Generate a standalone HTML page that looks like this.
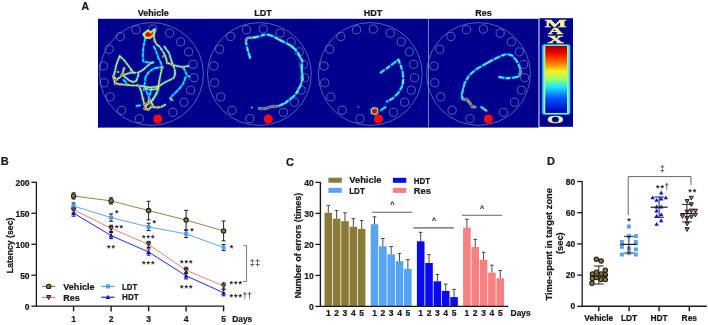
<!DOCTYPE html>
<html><head><meta charset="utf-8"><style>
html,body{margin:0;padding:0;background:#fff;width:708px;height:325px;overflow:hidden}
svg{display:block;filter:blur(0.3px)}
text{font-family:"Liberation Sans",sans-serif}
</style></head><body>
<svg width="708" height="325" viewBox="0 0 708 325">
<rect width="708" height="325" fill="#fff"/>
<rect x="98" y="18.8" width="440.8" height="108.8" fill="#00008c"/>
<rect x="539.3" y="18.2" width="33.7" height="108.6" fill="#00008c"/>
<line x1="428.5" y1="18.8" x2="428.5" y2="127.6" stroke="#8c9ccc" stroke-width="0.8"/>
<line x1="538.9" y1="18.2" x2="538.9" y2="127.2" stroke="#b8bcd8" stroke-width="0.9"/>
<ellipse cx="151.50" cy="74.0" rx="51.9" ry="51.4" fill="none" stroke="#6c8cc4" stroke-width="0.7"/>
<circle cx="152.77" cy="29.07" r="4.1" fill="none" stroke="#6c8cc4" stroke-width="0.7"/>
<circle cx="169.55" cy="33.09" r="4.1" fill="none" stroke="#6c8cc4" stroke-width="0.7"/>
<circle cx="180.62" cy="41.82" r="4.1" fill="none" stroke="#6c8cc4" stroke-width="0.7"/>
<circle cx="188.68" cy="51.89" r="4.1" fill="none" stroke="#6c8cc4" stroke-width="0.7"/>
<circle cx="193.04" cy="64.30" r="4.1" fill="none" stroke="#6c8cc4" stroke-width="0.7"/>
<circle cx="194.04" cy="77.72" r="4.1" fill="none" stroke="#6c8cc4" stroke-width="0.7"/>
<circle cx="190.69" cy="90.14" r="4.1" fill="none" stroke="#6c8cc4" stroke-width="0.7"/>
<circle cx="183.98" cy="102.22" r="4.1" fill="none" stroke="#6c8cc4" stroke-width="0.7"/>
<circle cx="172.90" cy="112.29" r="4.1" fill="none" stroke="#6c8cc4" stroke-width="0.7"/>
<circle cx="139.35" cy="118.66" r="4.1" fill="none" stroke="#6c8cc4" stroke-width="0.7"/>
<circle cx="121.56" cy="110.28" r="4.1" fill="none" stroke="#6c8cc4" stroke-width="0.7"/>
<circle cx="110.15" cy="96.85" r="4.1" fill="none" stroke="#6c8cc4" stroke-width="0.7"/>
<circle cx="104.11" cy="82.76" r="4.1" fill="none" stroke="#6c8cc4" stroke-width="0.7"/>
<circle cx="103.44" cy="65.98" r="4.1" fill="none" stroke="#6c8cc4" stroke-width="0.7"/>
<circle cx="109.14" cy="49.20" r="4.1" fill="none" stroke="#6c8cc4" stroke-width="0.7"/>
<circle cx="120.22" cy="36.45" r="4.1" fill="none" stroke="#6c8cc4" stroke-width="0.7"/>
<circle cx="135.99" cy="29.74" r="4.1" fill="none" stroke="#6c8cc4" stroke-width="0.7"/>
<circle cx="157.80" cy="119.00" r="4.5" fill="#ff0a0a"/>
<ellipse cx="259.40" cy="74.0" rx="51.9" ry="51.4" fill="none" stroke="#6c8cc4" stroke-width="0.7"/>
<circle cx="263.27" cy="29.07" r="4.1" fill="none" stroke="#6c8cc4" stroke-width="0.7"/>
<circle cx="280.05" cy="33.09" r="4.1" fill="none" stroke="#6c8cc4" stroke-width="0.7"/>
<circle cx="291.12" cy="41.82" r="4.1" fill="none" stroke="#6c8cc4" stroke-width="0.7"/>
<circle cx="299.18" cy="51.89" r="4.1" fill="none" stroke="#6c8cc4" stroke-width="0.7"/>
<circle cx="303.54" cy="64.30" r="4.1" fill="none" stroke="#6c8cc4" stroke-width="0.7"/>
<circle cx="304.54" cy="77.72" r="4.1" fill="none" stroke="#6c8cc4" stroke-width="0.7"/>
<circle cx="301.19" cy="90.14" r="4.1" fill="none" stroke="#6c8cc4" stroke-width="0.7"/>
<circle cx="294.48" cy="102.22" r="4.1" fill="none" stroke="#6c8cc4" stroke-width="0.7"/>
<circle cx="283.40" cy="112.29" r="4.1" fill="none" stroke="#6c8cc4" stroke-width="0.7"/>
<circle cx="249.85" cy="118.66" r="4.1" fill="none" stroke="#6c8cc4" stroke-width="0.7"/>
<circle cx="232.06" cy="110.28" r="4.1" fill="none" stroke="#6c8cc4" stroke-width="0.7"/>
<circle cx="220.65" cy="96.85" r="4.1" fill="none" stroke="#6c8cc4" stroke-width="0.7"/>
<circle cx="214.61" cy="82.76" r="4.1" fill="none" stroke="#6c8cc4" stroke-width="0.7"/>
<circle cx="213.94" cy="65.98" r="4.1" fill="none" stroke="#6c8cc4" stroke-width="0.7"/>
<circle cx="219.64" cy="49.20" r="4.1" fill="none" stroke="#6c8cc4" stroke-width="0.7"/>
<circle cx="230.72" cy="36.45" r="4.1" fill="none" stroke="#6c8cc4" stroke-width="0.7"/>
<circle cx="246.49" cy="29.74" r="4.1" fill="none" stroke="#6c8cc4" stroke-width="0.7"/>
<circle cx="268.30" cy="119.00" r="4.5" fill="#ff0a0a"/>
<ellipse cx="370.30" cy="74.0" rx="51.9" ry="51.4" fill="none" stroke="#6c8cc4" stroke-width="0.7"/>
<circle cx="373.37" cy="29.07" r="4.1" fill="none" stroke="#6c8cc4" stroke-width="0.7"/>
<circle cx="390.15" cy="33.09" r="4.1" fill="none" stroke="#6c8cc4" stroke-width="0.7"/>
<circle cx="401.22" cy="41.82" r="4.1" fill="none" stroke="#6c8cc4" stroke-width="0.7"/>
<circle cx="409.28" cy="51.89" r="4.1" fill="none" stroke="#6c8cc4" stroke-width="0.7"/>
<circle cx="413.64" cy="64.30" r="4.1" fill="none" stroke="#6c8cc4" stroke-width="0.7"/>
<circle cx="414.64" cy="77.72" r="4.1" fill="none" stroke="#6c8cc4" stroke-width="0.7"/>
<circle cx="411.29" cy="90.14" r="4.1" fill="none" stroke="#6c8cc4" stroke-width="0.7"/>
<circle cx="404.58" cy="102.22" r="4.1" fill="none" stroke="#6c8cc4" stroke-width="0.7"/>
<circle cx="393.50" cy="112.29" r="4.1" fill="none" stroke="#6c8cc4" stroke-width="0.7"/>
<circle cx="359.95" cy="118.66" r="4.1" fill="none" stroke="#6c8cc4" stroke-width="0.7"/>
<circle cx="342.16" cy="110.28" r="4.1" fill="none" stroke="#6c8cc4" stroke-width="0.7"/>
<circle cx="330.75" cy="96.85" r="4.1" fill="none" stroke="#6c8cc4" stroke-width="0.7"/>
<circle cx="324.71" cy="82.76" r="4.1" fill="none" stroke="#6c8cc4" stroke-width="0.7"/>
<circle cx="324.04" cy="65.98" r="4.1" fill="none" stroke="#6c8cc4" stroke-width="0.7"/>
<circle cx="329.74" cy="49.20" r="4.1" fill="none" stroke="#6c8cc4" stroke-width="0.7"/>
<circle cx="340.82" cy="36.45" r="4.1" fill="none" stroke="#6c8cc4" stroke-width="0.7"/>
<circle cx="356.59" cy="29.74" r="4.1" fill="none" stroke="#6c8cc4" stroke-width="0.7"/>
<circle cx="378.40" cy="119.00" r="4.5" fill="#ff0a0a"/>
<ellipse cx="478.50" cy="74.0" rx="51.9" ry="51.4" fill="none" stroke="#6c8cc4" stroke-width="0.7"/>
<circle cx="483.37" cy="29.07" r="4.1" fill="none" stroke="#6c8cc4" stroke-width="0.7"/>
<circle cx="500.15" cy="33.09" r="4.1" fill="none" stroke="#6c8cc4" stroke-width="0.7"/>
<circle cx="511.22" cy="41.82" r="4.1" fill="none" stroke="#6c8cc4" stroke-width="0.7"/>
<circle cx="519.28" cy="51.89" r="4.1" fill="none" stroke="#6c8cc4" stroke-width="0.7"/>
<circle cx="523.64" cy="64.30" r="4.1" fill="none" stroke="#6c8cc4" stroke-width="0.7"/>
<circle cx="524.64" cy="77.72" r="4.1" fill="none" stroke="#6c8cc4" stroke-width="0.7"/>
<circle cx="521.29" cy="90.14" r="4.1" fill="none" stroke="#6c8cc4" stroke-width="0.7"/>
<circle cx="514.58" cy="102.22" r="4.1" fill="none" stroke="#6c8cc4" stroke-width="0.7"/>
<circle cx="503.50" cy="112.29" r="4.1" fill="none" stroke="#6c8cc4" stroke-width="0.7"/>
<circle cx="469.95" cy="118.66" r="4.1" fill="none" stroke="#6c8cc4" stroke-width="0.7"/>
<circle cx="452.16" cy="110.28" r="4.1" fill="none" stroke="#6c8cc4" stroke-width="0.7"/>
<circle cx="440.75" cy="96.85" r="4.1" fill="none" stroke="#6c8cc4" stroke-width="0.7"/>
<circle cx="434.71" cy="82.76" r="4.1" fill="none" stroke="#6c8cc4" stroke-width="0.7"/>
<circle cx="434.04" cy="65.98" r="4.1" fill="none" stroke="#6c8cc4" stroke-width="0.7"/>
<circle cx="439.74" cy="49.20" r="4.1" fill="none" stroke="#6c8cc4" stroke-width="0.7"/>
<circle cx="450.82" cy="36.45" r="4.1" fill="none" stroke="#6c8cc4" stroke-width="0.7"/>
<circle cx="466.59" cy="29.74" r="4.1" fill="none" stroke="#6c8cc4" stroke-width="0.7"/>
<circle cx="488.40" cy="119.00" r="4.5" fill="#ff0a0a"/>
<path d="M250.0,57.7 L247.7,50.0 L245.8,41.5 L246.9,38.2 L248.5,37.7 L253.8,37.6 L258.5,36.6 L264.6,34.7 L268.5,34.8 L273.1,36.3 L278.5,39.3 L284.6,42.3 L290.5,45.4 L295.2,49.3 L298.5,53.8 L300.2,57.5 L302.3,60.5 L301.5,69.2 L302.8,77.5 L300.5,85.8 L298.0,90.5 L295.0,95.1 L289.4,99.7 L284.6,103.4 L277.7,106.4 L272.2,106.5 L265.7,108.5 L260.2,108.6 L257.4,108.2" fill="none" stroke="#0a6cff" stroke-width="3.8" stroke-opacity="0.45" stroke-linecap="round" stroke-linejoin="round" stroke-dasharray="4.5 3 3 3.2 5.5 2.8 2.5 3"/>
<path d="M250.0,57.7 L247.7,50.0 L245.8,41.5 L246.9,38.2 L248.5,37.7 L253.8,37.6 L258.5,36.6 L264.6,34.7 L268.5,34.8 L273.1,36.3 L278.5,39.3 L284.6,42.3 L290.5,45.4 L295.2,49.3 L298.5,53.8 L300.2,57.5 L302.3,60.5 L301.5,69.2 L302.8,77.5 L300.5,85.8 L298.0,90.5 L295.0,95.1 L289.4,99.7 L284.6,103.4 L277.7,106.4 L272.2,106.5 L265.7,108.5 L260.2,108.6 L257.4,108.2" fill="none" stroke="#2ae4ff" stroke-width="2.0" stroke-linecap="round" stroke-linejoin="round" stroke-dasharray="4.5 3 3 3.2 5.5 2.8 2.5 3"/>
<path d="M250.0,57.7 L247.7,50.0 L245.8,41.5 L246.9,38.2 L248.5,37.7 L253.8,37.6 L258.5,36.6 L264.6,34.7 L268.5,34.8 L273.1,36.3 L278.5,39.3 L284.6,42.3 L290.5,45.4 L295.2,49.3 L298.5,53.8 L300.2,57.5 L302.3,60.5 L301.5,69.2 L302.8,77.5 L300.5,85.8 L298.0,90.5 L295.0,95.1 L289.4,99.7 L284.6,103.4 L277.7,106.4 L272.2,106.5 L265.7,108.5 L260.2,108.6 L257.4,108.2" fill="none" stroke="#d8f050" stroke-width="0.9" stroke-linecap="round" stroke-dasharray="2 4 3 6 1.5 5"/>
<circle cx="251.8" cy="107.6" r="1.0" fill="#2ae4ff"/>
<path d="M246.0,42.0 L246.9,38.2 L250.0,37.8" fill="none" stroke="#2ae4ff" stroke-width="2.0" stroke-linecap="round" stroke-linejoin="round"/>
<path d="M246.0,42.0 L246.9,38.2 L250.0,37.8" fill="none" stroke="#f05010" stroke-width="1.00" stroke-linecap="round" stroke-linejoin="round"/>
<path d="M259.0,108.5 L265.7,108.4 L272.2,106.4 L279.0,106.0" fill="none" stroke="#2ae4ff" stroke-width="2.2" stroke-linecap="round" stroke-linejoin="round"/>
<path d="M259.0,108.5 L265.7,108.4 L272.2,106.4 L279.0,106.0" fill="none" stroke="#f03010" stroke-width="1.10" stroke-linecap="round" stroke-linejoin="round"/>
<circle cx="262" cy="108.5" r="0.9" fill="#e01000"/>
<circle cx="268.5" cy="107.6" r="0.9" fill="#e01000"/>
<circle cx="275" cy="106.4" r="0.9" fill="#e01000"/>
<path d="M253.0,37.6 L256.0,37.2" fill="none" stroke="#2ae4ff" stroke-width="2.0" stroke-linecap="round" stroke-linejoin="round"/>
<path d="M253.0,37.6 L256.0,37.2" fill="none" stroke="#e8e030" stroke-width="1.00" stroke-linecap="round" stroke-linejoin="round"/>
<path d="M278.5,39.3 L281.5,40.8" fill="none" stroke="#2ae4ff" stroke-width="2.0" stroke-linecap="round" stroke-linejoin="round"/>
<path d="M278.5,39.3 L281.5,40.8" fill="none" stroke="#e8e030" stroke-width="1.00" stroke-linecap="round" stroke-linejoin="round"/>
<path d="M290.5,45.4 L293.0,47.5" fill="none" stroke="#2ae4ff" stroke-width="2.0" stroke-linecap="round" stroke-linejoin="round"/>
<path d="M290.5,45.4 L293.0,47.5" fill="none" stroke="#e8e030" stroke-width="1.00" stroke-linecap="round" stroke-linejoin="round"/>
<path d="M298.5,53.8 L299.6,56.0" fill="none" stroke="#2ae4ff" stroke-width="2.0" stroke-linecap="round" stroke-linejoin="round"/>
<path d="M298.5,53.8 L299.6,56.0" fill="none" stroke="#e8e030" stroke-width="1.00" stroke-linecap="round" stroke-linejoin="round"/>
<path d="M301.8,66.0 L301.6,70.0" fill="none" stroke="#2ae4ff" stroke-width="2.0" stroke-linecap="round" stroke-linejoin="round"/>
<path d="M301.8,66.0 L301.6,70.0" fill="none" stroke="#e8e030" stroke-width="1.00" stroke-linecap="round" stroke-linejoin="round"/>
<path d="M302.4,76.0 L302.6,80.0" fill="none" stroke="#2ae4ff" stroke-width="2.0" stroke-linecap="round" stroke-linejoin="round"/>
<path d="M302.4,76.0 L302.6,80.0" fill="none" stroke="#e8e030" stroke-width="1.00" stroke-linecap="round" stroke-linejoin="round"/>
<path d="M298.0,90.5 L296.5,93.0" fill="none" stroke="#2ae4ff" stroke-width="2.0" stroke-linecap="round" stroke-linejoin="round"/>
<path d="M298.0,90.5 L296.5,93.0" fill="none" stroke="#e8e030" stroke-width="1.00" stroke-linecap="round" stroke-linejoin="round"/>
<path d="M287.0,101.5 L285.5,102.8" fill="none" stroke="#2ae4ff" stroke-width="2.0" stroke-linecap="round" stroke-linejoin="round"/>
<path d="M287.0,101.5 L285.5,102.8" fill="none" stroke="#e8e030" stroke-width="1.00" stroke-linecap="round" stroke-linejoin="round"/>
<path d="M380.8,72.5 L387.3,67.9 L393.8,63.3 L398.4,59.6 L400.2,64.2 L402.6,71.6 L403.4,79.0 L402.1,86.4 L398.4,92.8 L392.8,98.4 L386.9,101.5" fill="none" stroke="#0a6cff" stroke-width="3.7" stroke-opacity="0.45" stroke-linecap="round" stroke-linejoin="round" stroke-dasharray="4 3 3.5 2.8 5 3"/>
<path d="M380.8,72.5 L387.3,67.9 L393.8,63.3 L398.4,59.6 L400.2,64.2 L402.6,71.6 L403.4,79.0 L402.1,86.4 L398.4,92.8 L392.8,98.4 L386.9,101.5" fill="none" stroke="#2ae4ff" stroke-width="1.9" stroke-linecap="round" stroke-linejoin="round" stroke-dasharray="4 3 3.5 2.8 5 3"/>
<path d="M380.8,72.5 L387.3,67.9 L393.8,63.3 L398.4,59.6 L400.2,64.2 L402.6,71.6 L403.4,79.0 L402.1,86.4 L398.4,92.8 L392.8,98.4 L386.9,101.5" fill="none" stroke="#d8f050" stroke-width="0.8" stroke-linecap="round" stroke-dasharray="1.5 7 2 9"/>
<path d="M380.9,110.2 L385.5,107.0" fill="none" stroke="#0a6cff" stroke-width="3.4000000000000004" stroke-opacity="0.45" stroke-linecap="round" stroke-linejoin="round"/>
<path d="M380.9,110.2 L385.5,107.0" fill="none" stroke="#2ae4ff" stroke-width="1.6" stroke-linecap="round" stroke-linejoin="round"/>
<circle cx="385.0" cy="108.3" r="0.9" fill="#ff6020"/>
<path d="M371.2,109.6 L373.6,107.6 L377.4,108.4 L378.0,112.6 L375.2,114.6 L371.4,113.4 Z" fill="#2ae4ff" stroke="#2ae4ff" stroke-width="1.4" stroke-linejoin="round"/>
<path d="M371.2,109.6 L373.6,107.6 L377.4,108.4 L378.0,112.6 L375.2,114.6 L371.4,113.4 Z" fill="#f0e030"/>
<path d="M371.9,109.8 L373.8,108.3 L377,109 L377.4,112.5 L375.1,114 L372,113 Z" fill="#e81800"/>
<circle cx="374.4" cy="111" r="1.2" fill="#b00000"/>
<circle cx="358.3" cy="106.8" r="0.9" fill="#30a0ff"/>
<path d="M403.3,80.0 L402.6,84.0" fill="none" stroke="#2ae4ff" stroke-width="1.5" stroke-linecap="round" stroke-linejoin="round"/>
<path d="M403.3,80.0 L402.6,84.0" fill="none" stroke="#e8f040" stroke-width="0.75" stroke-linecap="round" stroke-linejoin="round"/>
<path d="M398.4,59.8 L399.5,62.0" fill="none" stroke="#2ae4ff" stroke-width="1.5" stroke-linecap="round" stroke-linejoin="round"/>
<path d="M398.4,59.8 L399.5,62.0" fill="none" stroke="#e8f040" stroke-width="0.75" stroke-linecap="round" stroke-linejoin="round"/>
<path d="M499.2,77.0 L506.7,78.3 L513.2,77.7 L518.5,76.6 L520.7,72.3 L519.6,66.9 L516.4,60.5 L512.1,55.5 L506.7,54.0 L500.2,56.2 L491.6,60.5 L483.0,65.4 L475.5,69.7 L469.0,75.5 L464.7,83.1 L462.5,91.7 L461.5,95.5 L463.3,99.2 L467.0,99.7 L469.8,102.9 L472.1,106.6 L476.2,107.1" fill="none" stroke="#0a6cff" stroke-width="3.7" stroke-opacity="0.45" stroke-linecap="round" stroke-linejoin="round" stroke-dasharray="4.5 2.8 3.5 3 5 2.8"/>
<path d="M499.2,77.0 L506.7,78.3 L513.2,77.7 L518.5,76.6 L520.7,72.3 L519.6,66.9 L516.4,60.5 L512.1,55.5 L506.7,54.0 L500.2,56.2 L491.6,60.5 L483.0,65.4 L475.5,69.7 L469.0,75.5 L464.7,83.1 L462.5,91.7 L461.5,95.5 L463.3,99.2 L467.0,99.7 L469.8,102.9 L472.1,106.6 L476.2,107.1" fill="none" stroke="#2ae4ff" stroke-width="1.9" stroke-linecap="round" stroke-linejoin="round" stroke-dasharray="4.5 2.8 3.5 3 5 2.8"/>
<path d="M499.2,77.0 L506.7,78.3 L513.2,77.7 L518.5,76.6 L520.7,72.3 L519.6,66.9 L516.4,60.5 L512.1,55.5 L506.7,54.0 L500.2,56.2 L491.6,60.5 L483.0,65.4 L475.5,69.7 L469.0,75.5 L464.7,83.1 L462.5,91.7 L461.5,95.5 L463.3,99.2 L467.0,99.7 L469.8,102.9 L472.1,106.6 L476.2,107.1" fill="none" stroke="#d8f050" stroke-width="0.8" stroke-linecap="round" stroke-dasharray="2 6 1.5 8"/>
<path d="M481.3,107.1 L486.4,110.8" fill="none" stroke="#0a6cff" stroke-width="3.5" stroke-opacity="0.45" stroke-linecap="round" stroke-linejoin="round"/>
<path d="M481.3,107.1 L486.4,110.8" fill="none" stroke="#2ae4ff" stroke-width="1.7" stroke-linecap="round" stroke-linejoin="round"/>
<path d="M520.3,69.0 L520.7,72.3 L519.5,76.0" fill="none" stroke="#2ae4ff" stroke-width="1.8" stroke-linecap="round" stroke-linejoin="round"/>
<path d="M520.3,69.0 L520.7,72.3 L519.5,76.0" fill="none" stroke="#f05020" stroke-width="0.90" stroke-linecap="round" stroke-linejoin="round"/>
<path d="M462.0,98.6 L463.3,99.2 L467.0,99.7 L469.8,102.9 L472.1,106.6 L474.5,107.0" fill="none" stroke="#2ae4ff" stroke-width="2.6" stroke-linecap="round" stroke-linejoin="round"/>
<path d="M462.0,98.6 L463.3,99.2 L467.0,99.7 L469.8,102.9 L472.1,106.6 L474.5,107.0" fill="none" stroke="#f05010" stroke-width="1.30" stroke-linecap="round" stroke-linejoin="round"/>
<circle cx="466.2" cy="99.6" r="0.9" fill="#e01000"/>
<circle cx="471.6" cy="105.8" r="1.0" fill="#e01000"/>
<path d="M481.8,107.4 L485.5,110.0" fill="none" stroke="#2ae4ff" stroke-width="2.2" stroke-linecap="round" stroke-linejoin="round"/>
<path d="M481.8,107.4 L485.5,110.0" fill="none" stroke="#f08020" stroke-width="1.10" stroke-linecap="round" stroke-linejoin="round"/>
<path d="M491.6,60.5 L487.0,63.0" fill="none" stroke="#2ae4ff" stroke-width="1.5" stroke-linecap="round" stroke-linejoin="round"/>
<path d="M491.6,60.5 L487.0,63.0" fill="none" stroke="#e8f040" stroke-width="0.75" stroke-linecap="round" stroke-linejoin="round"/>
<path d="M145.5,38.0 L144.7,40.5 L143.5,46.6 L142.9,54.0 L143.2,61.4 L147.4,62.3 L152.3,62.9 L153.5,62.5" fill="none" stroke="#0a6cff" stroke-width="3.4000000000000004" stroke-opacity="0.45" stroke-linecap="round" stroke-linejoin="round" stroke-dasharray="3.5 1.9 2.5 2.1 4 1.8"/>
<path d="M145.5,38.0 L144.7,40.5 L143.5,46.6 L142.9,54.0 L143.2,61.4 L147.4,62.3 L152.3,62.9 L153.5,62.5" fill="none" stroke="#2ae4ff" stroke-width="1.6" stroke-linecap="round" stroke-linejoin="round" stroke-dasharray="3.5 1.9 2.5 2.1 4 1.8"/>
<path d="M154.6,29.4 L153.9,36.8 L154.6,40.5 L156.4,44.2 L159.5,46.6 L162.0,50.3 L164.4,54.0 L166.0,58.0 L167.2,62.9 L172.7,64.8 L177.0,66.0 L183.2,67.2 L186.9,66.0 L188.5,66.2" fill="none" stroke="#0a6cff" stroke-width="3.4000000000000004" stroke-opacity="0.45" stroke-linecap="round" stroke-linejoin="round" stroke-dasharray="3.5 1.9 2.5 2.1 4 1.8"/>
<path d="M154.6,29.4 L153.9,36.8 L154.6,40.5 L156.4,44.2 L159.5,46.6 L162.0,50.3 L164.4,54.0 L166.0,58.0 L167.2,62.9 L172.7,64.8 L177.0,66.0 L183.2,67.2 L186.9,66.0 L188.5,66.2" fill="none" stroke="#2ae4ff" stroke-width="1.6" stroke-linecap="round" stroke-linejoin="round" stroke-dasharray="3.5 1.9 2.5 2.1 4 1.8"/>
<path d="M153.9,46.6 L155.8,50.3 L157.0,54.0 L158.3,57.7 L160.5,62.0 L162.2,67.2" fill="none" stroke="#0a6cff" stroke-width="3.4000000000000004" stroke-opacity="0.45" stroke-linecap="round" stroke-linejoin="round" stroke-dasharray="3.5 1.9 2.5 2.1 4 1.8"/>
<path d="M153.9,46.6 L155.8,50.3 L157.0,54.0 L158.3,57.7 L160.5,62.0 L162.2,67.2" fill="none" stroke="#2ae4ff" stroke-width="1.6" stroke-linecap="round" stroke-linejoin="round" stroke-dasharray="3.5 1.9 2.5 2.1 4 1.8"/>
<path d="M164.4,46.6 L169.0,53.0 L171.5,61.1 L172.7,64.8 L174.6,68.5 L175.2,74.6 L173.3,78.3 L169.7,80.0 L164.8,82.4 L159.9,85.5 L154.9,89.2 L150.0,89.8 L145.5,88.0" fill="none" stroke="#0a6cff" stroke-width="3.4000000000000004" stroke-opacity="0.45" stroke-linecap="round" stroke-linejoin="round" stroke-dasharray="3.5 1.9 2.5 2.1 4 1.8"/>
<path d="M164.4,46.6 L169.0,53.0 L171.5,61.1 L172.7,64.8 L174.6,68.5 L175.2,74.6 L173.3,78.3 L169.7,80.0 L164.8,82.4 L159.9,85.5 L154.9,89.2 L150.0,89.8 L145.5,88.0" fill="none" stroke="#2ae4ff" stroke-width="1.6" stroke-linecap="round" stroke-linejoin="round" stroke-dasharray="3.5 1.9 2.5 2.1 4 1.8"/>
<path d="M162.2,67.2 L161.0,72.2 L159.8,78.3 L159.2,81.2 L158.6,87.3 L156.2,93.5 L153.7,98.4 L151.2,102.1" fill="none" stroke="#0a6cff" stroke-width="3.4000000000000004" stroke-opacity="0.45" stroke-linecap="round" stroke-linejoin="round" stroke-dasharray="3.5 1.9 2.5 2.1 4 1.8"/>
<path d="M162.2,67.2 L161.0,72.2 L159.8,78.3 L159.2,81.2 L158.6,87.3 L156.2,93.5 L153.7,98.4 L151.2,102.1" fill="none" stroke="#2ae4ff" stroke-width="1.6" stroke-linecap="round" stroke-linejoin="round" stroke-dasharray="3.5 1.9 2.5 2.1 4 1.8"/>
<path d="M143.7,90.0 L145.0,82.0 L145.5,77.1 L148.6,72.2 L153.6,68.5 L158.0,67.6 L162.2,67.2" fill="none" stroke="#0a6cff" stroke-width="3.4000000000000004" stroke-opacity="0.45" stroke-linecap="round" stroke-linejoin="round" stroke-dasharray="3.5 1.9 2.5 2.1 4 1.8"/>
<path d="M143.7,90.0 L145.0,82.0 L145.5,77.1 L148.6,72.2 L153.6,68.5 L158.0,67.6 L162.2,67.2" fill="none" stroke="#2ae4ff" stroke-width="1.6" stroke-linecap="round" stroke-linejoin="round" stroke-dasharray="3.5 1.9 2.5 2.1 4 1.8"/>
<path d="M183.2,67.2 L185.6,72.2 L187.5,75.9 L189.3,76.5" fill="none" stroke="#0a6cff" stroke-width="3.4000000000000004" stroke-opacity="0.45" stroke-linecap="round" stroke-linejoin="round" stroke-dasharray="3.5 1.9 2.5 2.1 4 1.8"/>
<path d="M183.2,67.2 L185.6,72.2 L187.5,75.9 L189.3,76.5" fill="none" stroke="#2ae4ff" stroke-width="1.6" stroke-linecap="round" stroke-linejoin="round" stroke-dasharray="3.5 1.9 2.5 2.1 4 1.8"/>
<path d="M185.6,77.1 L183.3,83.6 L179.6,88.5 L174.6,93.5 L170.3,97.8 L170.9,99.6 L174.0,100.9" fill="none" stroke="#0a6cff" stroke-width="3.4000000000000004" stroke-opacity="0.45" stroke-linecap="round" stroke-linejoin="round" stroke-dasharray="3.5 1.9 2.5 2.1 4 1.8"/>
<path d="M185.6,77.1 L183.3,83.6 L179.6,88.5 L174.6,93.5 L170.3,97.8 L170.9,99.6 L174.0,100.9" fill="none" stroke="#2ae4ff" stroke-width="1.6" stroke-linecap="round" stroke-linejoin="round" stroke-dasharray="3.5 1.9 2.5 2.1 4 1.8"/>
<path d="M119.7,56.2 L117.2,62.3 L116.0,66.0 L115.4,69.7 L114.5,73.0 L113.5,76.5 L114.0,80.0 L115.4,83.3" fill="none" stroke="#0a6cff" stroke-width="3.4000000000000004" stroke-opacity="0.45" stroke-linecap="round" stroke-linejoin="round" stroke-dasharray="3.5 1.9 2.5 2.1 4 1.8"/>
<path d="M119.7,56.2 L117.2,62.3 L116.0,66.0 L115.4,69.7 L114.5,73.0 L113.5,76.5 L114.0,80.0 L115.4,83.3" fill="none" stroke="#2ae4ff" stroke-width="1.6" stroke-linecap="round" stroke-linejoin="round" stroke-dasharray="3.5 1.9 2.5 2.1 4 1.8"/>
<path d="M119.7,56.2 L124.0,59.9 L127.7,64.8 L131.4,69.7 L133.9,72.8 L137.6,72.8 L142.5,70.3 L147.4,66.0 L151.1,62.9 L153.0,62.3" fill="none" stroke="#0a6cff" stroke-width="3.4000000000000004" stroke-opacity="0.45" stroke-linecap="round" stroke-linejoin="round" stroke-dasharray="3.5 1.9 2.5 2.1 4 1.8"/>
<path d="M119.7,56.2 L124.0,59.9 L127.7,64.8 L131.4,69.7 L133.9,72.8 L137.6,72.8 L142.5,70.3 L147.4,66.0 L151.1,62.9 L153.0,62.3" fill="none" stroke="#2ae4ff" stroke-width="1.6" stroke-linecap="round" stroke-linejoin="round" stroke-dasharray="3.5 1.9 2.5 2.1 4 1.8"/>
<path d="M124.0,68.5 L122.2,74.6 L120.3,77.1 L116.6,79.6 L113.5,76.5" fill="none" stroke="#0a6cff" stroke-width="3.4000000000000004" stroke-opacity="0.45" stroke-linecap="round" stroke-linejoin="round" stroke-dasharray="3.5 1.9 2.5 2.1 4 1.8"/>
<path d="M124.0,68.5 L122.2,74.6 L120.3,77.1 L116.6,79.6 L113.5,76.5" fill="none" stroke="#2ae4ff" stroke-width="1.6" stroke-linecap="round" stroke-linejoin="round" stroke-dasharray="3.5 1.9 2.5 2.1 4 1.8"/>
<path d="M122.2,74.6 L124.6,74.6 L130.2,72.8 L133.9,72.8" fill="none" stroke="#0a6cff" stroke-width="3.4000000000000004" stroke-opacity="0.45" stroke-linecap="round" stroke-linejoin="round" stroke-dasharray="3.5 1.9 2.5 2.1 4 1.8"/>
<path d="M122.2,74.6 L124.6,74.6 L130.2,72.8 L133.9,72.8" fill="none" stroke="#2ae4ff" stroke-width="1.6" stroke-linecap="round" stroke-linejoin="round" stroke-dasharray="3.5 1.9 2.5 2.1 4 1.8"/>
<path d="M122.2,74.6 L125.2,77.1 L129.6,80.8 L133.9,82.0 L136.3,80.8 L137.6,77.1 L138.8,73.4" fill="none" stroke="#0a6cff" stroke-width="3.4000000000000004" stroke-opacity="0.45" stroke-linecap="round" stroke-linejoin="round" stroke-dasharray="3.5 1.9 2.5 2.1 4 1.8"/>
<path d="M122.2,74.6 L125.2,77.1 L129.6,80.8 L133.9,82.0 L136.3,80.8 L137.6,77.1 L138.8,73.4" fill="none" stroke="#2ae4ff" stroke-width="1.6" stroke-linecap="round" stroke-linejoin="round" stroke-dasharray="3.5 1.9 2.5 2.1 4 1.8"/>
<path d="M115.4,83.3 L119.9,84.3 L127.3,84.9 L132.2,85.5 L137.8,85.5 L143.3,86.2 L149.5,87.4 L155.6,86.8 L159.3,85.5" fill="none" stroke="#0a6cff" stroke-width="3.4000000000000004" stroke-opacity="0.45" stroke-linecap="round" stroke-linejoin="round" stroke-dasharray="3.5 1.9 2.5 2.1 4 1.8"/>
<path d="M115.4,83.3 L119.9,84.3 L127.3,84.9 L132.2,85.5 L137.8,85.5 L143.3,86.2 L149.5,87.4 L155.6,86.8 L159.3,85.5" fill="none" stroke="#2ae4ff" stroke-width="1.6" stroke-linecap="round" stroke-linejoin="round" stroke-dasharray="3.5 1.9 2.5 2.1 4 1.8"/>
<path d="M123.6,80.0 L127.3,83.7" fill="none" stroke="#0a6cff" stroke-width="3.4000000000000004" stroke-opacity="0.45" stroke-linecap="round" stroke-linejoin="round" stroke-dasharray="3.5 1.9 2.5 2.1 4 1.8"/>
<path d="M123.6,80.0 L127.3,83.7" fill="none" stroke="#2ae4ff" stroke-width="1.6" stroke-linecap="round" stroke-linejoin="round" stroke-dasharray="3.5 1.9 2.5 2.1 4 1.8"/>
<path d="M139.6,87.4 L141.5,92.3 L142.7,98.5 L144.6,104.6 L145.8,108.3" fill="none" stroke="#0a6cff" stroke-width="3.4000000000000004" stroke-opacity="0.45" stroke-linecap="round" stroke-linejoin="round" stroke-dasharray="3.5 1.9 2.5 2.1 4 1.8"/>
<path d="M139.6,87.4 L141.5,92.3 L142.7,98.5 L144.6,104.6 L145.8,108.3" fill="none" stroke="#2ae4ff" stroke-width="1.6" stroke-linecap="round" stroke-linejoin="round" stroke-dasharray="3.5 1.9 2.5 2.1 4 1.8"/>
<path d="M144.6,87.4 L147.0,92.3 L148.9,97.2 L149.5,100.9" fill="none" stroke="#0a6cff" stroke-width="3.4000000000000004" stroke-opacity="0.45" stroke-linecap="round" stroke-linejoin="round" stroke-dasharray="3.5 1.9 2.5 2.1 4 1.8"/>
<path d="M144.6,87.4 L147.0,92.3 L148.9,97.2 L149.5,100.9" fill="none" stroke="#2ae4ff" stroke-width="1.6" stroke-linecap="round" stroke-linejoin="round" stroke-dasharray="3.5 1.9 2.5 2.1 4 1.8"/>
<path d="M152.0,87.4 L150.7,92.3 L149.5,96.0" fill="none" stroke="#0a6cff" stroke-width="3.4000000000000004" stroke-opacity="0.45" stroke-linecap="round" stroke-linejoin="round" stroke-dasharray="3.5 1.9 2.5 2.1 4 1.8"/>
<path d="M152.0,87.4 L150.7,92.3 L149.5,96.0" fill="none" stroke="#2ae4ff" stroke-width="1.6" stroke-linecap="round" stroke-linejoin="round" stroke-dasharray="3.5 1.9 2.5 2.1 4 1.8"/>
<path d="M158.7,87.4 L157.5,92.3 L154.4,97.2 L151.3,100.9 L148.9,104.0" fill="none" stroke="#0a6cff" stroke-width="3.4000000000000004" stroke-opacity="0.45" stroke-linecap="round" stroke-linejoin="round" stroke-dasharray="3.5 1.9 2.5 2.1 4 1.8"/>
<path d="M158.7,87.4 L157.5,92.3 L154.4,97.2 L151.3,100.9 L148.9,104.0" fill="none" stroke="#2ae4ff" stroke-width="1.6" stroke-linecap="round" stroke-linejoin="round" stroke-dasharray="3.5 1.9 2.5 2.1 4 1.8"/>
<path d="M149.5,100.3 L147.6,103.4 L144.6,108.9 L148.3,109.6 L152.0,106.5 L153.2,105.2 L149.5,100.3" fill="none" stroke="#0a6cff" stroke-width="3.4000000000000004" stroke-opacity="0.45" stroke-linecap="round" stroke-linejoin="round" stroke-dasharray="3.5 1.9 2.5 2.1 4 1.8"/>
<path d="M149.5,100.3 L147.6,103.4 L144.6,108.9 L148.3,109.6 L152.0,106.5 L153.2,105.2 L149.5,100.3" fill="none" stroke="#2ae4ff" stroke-width="1.6" stroke-linecap="round" stroke-linejoin="round" stroke-dasharray="3.5 1.9 2.5 2.1 4 1.8"/>
<path d="M136.6,105.9 L140.9,105.2" fill="none" stroke="#0a6cff" stroke-width="3.4000000000000004" stroke-opacity="0.45" stroke-linecap="round" stroke-linejoin="round" stroke-dasharray="3.5 1.9 2.5 2.1 4 1.8"/>
<path d="M136.6,105.9 L140.9,105.2" fill="none" stroke="#2ae4ff" stroke-width="1.6" stroke-linecap="round" stroke-linejoin="round" stroke-dasharray="3.5 1.9 2.5 2.1 4 1.8"/>
<path d="M152.0,106.5 L156.2,107.6 L161.1,107.0 L165.4,104.6" fill="none" stroke="#0a6cff" stroke-width="3.4000000000000004" stroke-opacity="0.45" stroke-linecap="round" stroke-linejoin="round" stroke-dasharray="3.5 1.9 2.5 2.1 4 1.8"/>
<path d="M152.0,106.5 L156.2,107.6 L161.1,107.0 L165.4,104.6" fill="none" stroke="#2ae4ff" stroke-width="1.6" stroke-linecap="round" stroke-linejoin="round" stroke-dasharray="3.5 1.9 2.5 2.1 4 1.8"/>
<path d="M154.6,29.4 L153.9,36.8 L154.6,40.5 L156.4,44.2 L159.5,46.6 L162.0,50.3 L164.4,54.0 L166.0,58.0 L167.2,62.9 L172.7,64.8 L177.0,66.0 L183.2,67.2 L186.9,66.0 L188.5,66.2" fill="none" stroke="#f4f020" stroke-width="1.05" stroke-linecap="round" stroke-linejoin="round" stroke-dasharray="6 1.2 4 1.5" stroke-opacity="0.95"/>
<path d="M164.4,46.6 L169.0,53.0 L171.5,61.1 L172.7,64.8 L174.6,68.5 L175.2,74.6 L173.3,78.3 L169.7,80.0 L164.8,82.4 L159.9,85.5 L154.9,89.2 L150.0,89.8 L145.5,88.0" fill="none" stroke="#f4f020" stroke-width="1.05" stroke-linecap="round" stroke-linejoin="round" stroke-dasharray="6 1.2 4 1.5" stroke-opacity="0.95"/>
<path d="M162.2,67.2 L161.0,72.2 L159.8,78.3 L159.2,81.2 L158.6,87.3 L156.2,93.5 L153.7,98.4 L151.2,102.1" fill="none" stroke="#f4f020" stroke-width="1.05" stroke-linecap="round" stroke-linejoin="round" stroke-dasharray="6 1.2 4 1.5" stroke-opacity="0.95"/>
<path d="M119.7,56.2 L117.2,62.3 L116.0,66.0 L115.4,69.7 L114.5,73.0 L113.5,76.5 L114.0,80.0 L115.4,83.3" fill="none" stroke="#f4f020" stroke-width="1.05" stroke-linecap="round" stroke-linejoin="round" stroke-dasharray="6 1.2 4 1.5" stroke-opacity="0.95"/>
<path d="M119.7,56.2 L124.0,59.9 L127.7,64.8 L131.4,69.7 L133.9,72.8 L137.6,72.8 L142.5,70.3 L147.4,66.0 L151.1,62.9 L153.0,62.3" fill="none" stroke="#f4f020" stroke-width="1.05" stroke-linecap="round" stroke-linejoin="round" stroke-dasharray="6 1.2 4 1.5" stroke-opacity="0.95"/>
<path d="M124.0,68.5 L122.2,74.6 L120.3,77.1 L116.6,79.6 L113.5,76.5" fill="none" stroke="#f4f020" stroke-width="1.05" stroke-linecap="round" stroke-linejoin="round" stroke-dasharray="6 1.2 4 1.5" stroke-opacity="0.95"/>
<path d="M122.2,74.6 L124.6,74.6 L130.2,72.8 L133.9,72.8" fill="none" stroke="#f4f020" stroke-width="1.05" stroke-linecap="round" stroke-linejoin="round" stroke-dasharray="6 1.2 4 1.5" stroke-opacity="0.95"/>
<path d="M122.2,74.6 L125.2,77.1 L129.6,80.8 L133.9,82.0 L136.3,80.8 L137.6,77.1 L138.8,73.4" fill="none" stroke="#f4f020" stroke-width="1.05" stroke-linecap="round" stroke-linejoin="round" stroke-dasharray="6 1.2 4 1.5" stroke-opacity="0.95"/>
<path d="M115.4,83.3 L119.9,84.3 L127.3,84.9 L132.2,85.5 L137.8,85.5 L143.3,86.2 L149.5,87.4 L155.6,86.8 L159.3,85.5" fill="none" stroke="#f4f020" stroke-width="1.05" stroke-linecap="round" stroke-linejoin="round" stroke-dasharray="6 1.2 4 1.5" stroke-opacity="0.95"/>
<path d="M139.6,87.4 L141.5,92.3 L142.7,98.5 L144.6,104.6 L145.8,108.3" fill="none" stroke="#f4f020" stroke-width="1.05" stroke-linecap="round" stroke-linejoin="round" stroke-dasharray="6 1.2 4 1.5" stroke-opacity="0.95"/>
<path d="M149.5,100.3 L147.6,103.4 L144.6,108.9 L148.3,109.6 L152.0,106.5 L153.2,105.2 L149.5,100.3" fill="none" stroke="#f4f020" stroke-width="1.05" stroke-linecap="round" stroke-linejoin="round" stroke-dasharray="6 1.2 4 1.5" stroke-opacity="0.95"/>
<path d="M152.0,106.5 L156.2,107.6 L161.1,107.0 L165.4,104.6" fill="none" stroke="#f4f020" stroke-width="1.05" stroke-linecap="round" stroke-linejoin="round" stroke-dasharray="6 1.2 4 1.5" stroke-opacity="0.95"/>
<path d="M143.5,34.3 L147.8,30.6 L151,32.5 L154.6,29.4 L153.5,35 L149.6,38 L145.5,37.5 Z" fill="#2ae4ff" stroke="#2ae4ff" stroke-width="2.6" stroke-linejoin="round"/>
<path d="M143.5,34.3 L147.8,30.6 L151,32.5 L154.6,29.4 L153.5,35 L149.6,38 L145.5,37.5 Z" fill="#f0e030" stroke="#f0e030" stroke-width="1.2" stroke-linejoin="round"/>
<path d="M144.8,34.3 L147.8,31.6 L150.8,33.4 L153.4,31 L152.6,35 L149.4,37 L146,36.6 Z" fill="#ff2000"/>
<path d="M145.5,35 L148,32.8 L150.5,34.2 L149,36 L146.5,36 Z" fill="#c00000"/>
<circle cx="154.6" cy="40.5" r="1.50" fill="#f0e040" fill-opacity="0.85"/>
<circle cx="154.6" cy="40.5" r="0.80" fill="#ff3000"/>
<circle cx="163.2" cy="56.5" r="1.30" fill="#f0e040" fill-opacity="0.85"/>
<circle cx="163.2" cy="56.5" r="0.64" fill="#ff3000"/>
<circle cx="167.2" cy="62.9" r="1.40" fill="#f0e040" fill-opacity="0.85"/>
<circle cx="167.2" cy="62.9" r="0.72" fill="#ff3000"/>
<circle cx="172.7" cy="64.8" r="1.40" fill="#f0e040" fill-opacity="0.85"/>
<circle cx="172.7" cy="64.8" r="0.72" fill="#ff3000"/>
<circle cx="183.2" cy="67.2" r="1.40" fill="#f0e040" fill-opacity="0.85"/>
<circle cx="183.2" cy="67.2" r="0.72" fill="#ff3000"/>
<circle cx="162.2" cy="67.2" r="1.40" fill="#f0e040" fill-opacity="0.85"/>
<circle cx="162.2" cy="67.2" r="0.72" fill="#ff3000"/>
<circle cx="124" cy="68.5" r="1.40" fill="#f0e040" fill-opacity="0.85"/>
<circle cx="124" cy="68.5" r="0.72" fill="#ff3000"/>
<circle cx="122.2" cy="74.6" r="1.60" fill="#f0e040" fill-opacity="0.85"/>
<circle cx="122.2" cy="74.6" r="0.88" fill="#ff3000"/>
<circle cx="113.5" cy="76.5" r="1.50" fill="#f0e040" fill-opacity="0.85"/>
<circle cx="113.5" cy="76.5" r="0.80" fill="#ff3000"/>
<circle cx="115.4" cy="83.3" r="1.50" fill="#f0e040" fill-opacity="0.85"/>
<circle cx="115.4" cy="83.3" r="0.80" fill="#ff3000"/>
<circle cx="119.9" cy="84.3" r="1.30" fill="#f0e040" fill-opacity="0.85"/>
<circle cx="119.9" cy="84.3" r="0.64" fill="#ff3000"/>
<circle cx="127.3" cy="84.9" r="1.40" fill="#f0e040" fill-opacity="0.85"/>
<circle cx="127.3" cy="84.9" r="0.72" fill="#ff3000"/>
<circle cx="137.8" cy="85.5" r="1.50" fill="#f0e040" fill-opacity="0.85"/>
<circle cx="137.8" cy="85.5" r="0.80" fill="#ff3000"/>
<circle cx="116.6" cy="79.6" r="1.30" fill="#f0e040" fill-opacity="0.85"/>
<circle cx="116.6" cy="79.6" r="0.64" fill="#ff3000"/>
<circle cx="149.5" cy="100.3" r="1.70" fill="#f0e040" fill-opacity="0.85"/>
<circle cx="149.5" cy="100.3" r="0.96" fill="#ff3000"/>
<circle cx="147.6" cy="103.4" r="1.50" fill="#f0e040" fill-opacity="0.85"/>
<circle cx="147.6" cy="103.4" r="0.80" fill="#ff3000"/>
<circle cx="145" cy="108.5" r="1.80" fill="#f0e040" fill-opacity="0.85"/>
<circle cx="145" cy="108.5" r="1.04" fill="#ff3000"/>
<circle cx="152" cy="106.5" r="1.70" fill="#f0e040" fill-opacity="0.85"/>
<circle cx="152" cy="106.5" r="0.96" fill="#ff3000"/>
<circle cx="148.5" cy="109.2" r="1.40" fill="#f0e040" fill-opacity="0.85"/>
<circle cx="148.5" cy="109.2" r="0.72" fill="#ff3000"/>
<circle cx="170.9" cy="98.4" r="1.30" fill="#f0e040" fill-opacity="0.85"/>
<circle cx="170.9" cy="98.4" r="0.64" fill="#ff3000"/>
<circle cx="175" cy="74" r="1.20" fill="#f0e040" fill-opacity="0.85"/>
<circle cx="175" cy="74" r="0.56" fill="#ff3000"/>
<circle cx="159.2" cy="81" r="1.20" fill="#f0e040" fill-opacity="0.85"/>
<circle cx="159.2" cy="81" r="0.56" fill="#ff3000"/>
<circle cx="118" cy="72" r="1.30" fill="#f0e040" fill-opacity="0.85"/>
<circle cx="118" cy="72" r="0.64" fill="#ff3000"/>
<circle cx="131" cy="70.5" r="1.20" fill="#f0e040" fill-opacity="0.85"/>
<circle cx="131" cy="70.5" r="0.56" fill="#ff3000"/>
<circle cx="133" cy="82" r="1.20" fill="#f0e040" fill-opacity="0.85"/>
<circle cx="133" cy="82" r="0.56" fill="#ff3000"/>
<circle cx="143" cy="98" r="1.30" fill="#f0e040" fill-opacity="0.85"/>
<circle cx="143" cy="98" r="0.64" fill="#ff3000"/>
<circle cx="156" cy="89" r="1.20" fill="#f0e040" fill-opacity="0.85"/>
<circle cx="156" cy="89" r="0.56" fill="#ff3000"/>
<circle cx="144.5" cy="104.5" r="1.40" fill="#f0e040" fill-opacity="0.85"/>
<circle cx="144.5" cy="104.5" r="0.72" fill="#ff3000"/>
<circle cx="158" cy="107.4" r="1.30" fill="#f0e040" fill-opacity="0.85"/>
<circle cx="158" cy="107.4" r="0.64" fill="#ff3000"/>
<rect x="541.6" y="44.1" width="29.2" height="70.8" rx="2.6" fill="#1850ff"/>
<rect x="542.5" y="44.6" width="27.4" height="69.8" rx="2.2" fill="#30e2ff"/>
<rect x="543.9" y="45.3" width="24.6" height="68.4" rx="1.6" fill="#b8f078"/>
<defs><linearGradient id="jet" x1="0" y1="0" x2="0" y2="1"><stop offset="0" stop-color="#980000"/><stop offset="0.1" stop-color="#f00000"/><stop offset="0.25" stop-color="#ff7000"/><stop offset="0.38" stop-color="#f8f020"/><stop offset="0.5" stop-color="#90ff70"/><stop offset="0.61" stop-color="#20e8ff"/><stop offset="0.79" stop-color="#0050ff"/><stop offset="1" stop-color="#0000b8"/></linearGradient></defs>
<rect x="545.3" y="45.9" width="21.7" height="67.0" fill="url(#jet)"/>
<text x="0" y="0" font-size="10.1" font-family="Liberation Serif, serif" font-weight="bold" text-anchor="middle" fill="#f4f09a" stroke="#f4f09a" stroke-width="0.35" style="font-family:'Liberation Serif',serif" transform="translate(555.6,26.8) scale(2.3,1)">M</text>
<text x="0" y="0" font-size="8.3" font-family="Liberation Serif, serif" font-weight="bold" text-anchor="middle" fill="#f4f09a" stroke="#f4f09a" stroke-width="0.35" style="font-family:'Liberation Serif',serif" transform="translate(555.6,34.2) scale(2.5,1)">A</text>
<text x="0" y="0" font-size="11.0" font-family="Liberation Serif, serif" font-weight="bold" text-anchor="middle" fill="#f4f09a" stroke="#f4f09a" stroke-width="0.35" style="font-family:'Liberation Serif',serif" transform="translate(555.6,42.8) scale(2.1,1)">X</text>
<text x="0" y="0" font-size="9.6" font-family="Liberation Serif, serif" font-weight="bold" text-anchor="middle" fill="#f4f09a" stroke="#f4f09a" stroke-width="0.35" style="font-family:'Liberation Serif',serif" transform="translate(555.5,123.0) scale(2.25,1)">O</text>
<text x="81.40" y="9.50" font-size="10.5" text-anchor="start" font-weight="bold" fill="#1a1a1a" stroke="#1a1a1a" stroke-width="0.22" >A</text>
<text x="153.20" y="15.70" font-size="9" text-anchor="middle" font-weight="bold" fill="#1a1a1a" stroke="#1a1a1a" stroke-width="0.22" >Vehicle</text>
<text x="263.00" y="15.70" font-size="9" text-anchor="middle" font-weight="bold" fill="#1a1a1a" stroke="#1a1a1a" stroke-width="0.22" >LDT</text>
<text x="373.10" y="15.70" font-size="9" text-anchor="middle" font-weight="bold" fill="#1a1a1a" stroke="#1a1a1a" stroke-width="0.22" >HDT</text>
<text x="483.60" y="15.70" font-size="9" text-anchor="middle" font-weight="bold" fill="#1a1a1a" stroke="#1a1a1a" stroke-width="0.22" >Res</text>
<text x="0.70" y="164.70" font-size="11" text-anchor="start" font-weight="bold" fill="#1a1a1a" stroke="#1a1a1a" stroke-width="0.22" >B</text>
<line x1="36.40" y1="306.70" x2="36.40" y2="181.80" stroke="#1a1a1a" stroke-width="1.3" />
<line x1="35.80" y1="306.20" x2="224.20" y2="306.20" stroke="#1a1a1a" stroke-width="1.3" />
<line x1="31.40" y1="306.20" x2="36.40" y2="306.20" stroke="#1a1a1a" stroke-width="1.3" />
<text x="29.60" y="309.70" font-size="8.5" text-anchor="end" font-weight="bold" fill="#1a1a1a" stroke="#1a1a1a" stroke-width="0.22" >0</text>
<line x1="31.40" y1="275.22" x2="36.40" y2="275.22" stroke="#1a1a1a" stroke-width="1.3" />
<text x="29.60" y="278.72" font-size="8.5" text-anchor="end" font-weight="bold" fill="#1a1a1a" stroke="#1a1a1a" stroke-width="0.22" >50</text>
<line x1="31.40" y1="244.25" x2="36.40" y2="244.25" stroke="#1a1a1a" stroke-width="1.3" />
<text x="29.60" y="247.75" font-size="8.5" text-anchor="end" font-weight="bold" fill="#1a1a1a" stroke="#1a1a1a" stroke-width="0.22" >100</text>
<line x1="31.40" y1="213.27" x2="36.40" y2="213.27" stroke="#1a1a1a" stroke-width="1.3" />
<text x="29.60" y="216.77" font-size="8.5" text-anchor="end" font-weight="bold" fill="#1a1a1a" stroke="#1a1a1a" stroke-width="0.22" >150</text>
<line x1="31.40" y1="182.30" x2="36.40" y2="182.30" stroke="#1a1a1a" stroke-width="1.3" />
<text x="29.60" y="185.80" font-size="8.5" text-anchor="end" font-weight="bold" fill="#1a1a1a" stroke="#1a1a1a" stroke-width="0.22" >200</text>
<line x1="73.60" y1="306.20" x2="73.60" y2="311.40" stroke="#1a1a1a" stroke-width="1.4" />
<text x="73.60" y="322.30" font-size="8.5" text-anchor="middle" font-weight="bold" fill="#1a1a1a" stroke="#1a1a1a" stroke-width="0.22" >1</text>
<line x1="111.10" y1="306.20" x2="111.10" y2="311.40" stroke="#1a1a1a" stroke-width="1.4" />
<text x="111.10" y="322.30" font-size="8.5" text-anchor="middle" font-weight="bold" fill="#1a1a1a" stroke="#1a1a1a" stroke-width="0.22" >2</text>
<line x1="148.60" y1="306.20" x2="148.60" y2="311.40" stroke="#1a1a1a" stroke-width="1.4" />
<text x="148.60" y="322.30" font-size="8.5" text-anchor="middle" font-weight="bold" fill="#1a1a1a" stroke="#1a1a1a" stroke-width="0.22" >3</text>
<line x1="186.10" y1="306.20" x2="186.10" y2="311.40" stroke="#1a1a1a" stroke-width="1.4" />
<text x="186.10" y="322.30" font-size="8.5" text-anchor="middle" font-weight="bold" fill="#1a1a1a" stroke="#1a1a1a" stroke-width="0.22" >4</text>
<line x1="223.60" y1="306.20" x2="223.60" y2="311.40" stroke="#1a1a1a" stroke-width="1.4" />
<text x="223.60" y="322.30" font-size="8.5" text-anchor="middle" font-weight="bold" fill="#1a1a1a" stroke="#1a1a1a" stroke-width="0.22" >5</text>
<text x="232.20" y="322.30" font-size="8.4" text-anchor="start" font-weight="bold" fill="#1a1a1a" stroke="#1a1a1a" stroke-width="0.22" >Days</text>
<text x="0" y="0" font-size="8.7" text-anchor="middle" font-weight="bold" fill="#1a1a1a" stroke="#1a1a1a" stroke-width="0.22" transform="translate(13.20,245.40) rotate(-90)">Latency (sec)</text>
<path d="M73.60,195.93 L111.10,200.88 L148.60,210.55 L186.10,220.09 L223.60,230.93" fill="none" stroke="#8a7a30" stroke-width="0.9"/>
<path d="M73.60,206.03 L111.10,217.61 L148.60,226.90 L186.10,233.90 L223.60,247.53" fill="none" stroke="#4a9ef0" stroke-width="0.9"/>
<path d="M73.60,209.68 L111.10,228.33 L148.60,244.44 L186.10,270.27 L223.60,285.94" fill="none" stroke="#f07070" stroke-width="0.9"/>
<path d="M73.60,213.09 L111.10,235.58 L148.60,251.99 L186.10,275.84 L223.60,292.76" fill="none" stroke="#1010ee" stroke-width="0.9"/>
<line x1="73.60" y1="192.83" x2="73.60" y2="199.03" stroke="#1a1a1a" stroke-width="0.95" />
<line x1="71.60" y1="192.83" x2="75.60" y2="192.83" stroke="#1a1a1a" stroke-width="1.0" />
<line x1="71.60" y1="199.03" x2="75.60" y2="199.03" stroke="#1a1a1a" stroke-width="1.0" />
<line x1="111.10" y1="197.79" x2="111.10" y2="203.98" stroke="#1a1a1a" stroke-width="0.95" />
<line x1="109.10" y1="197.79" x2="113.10" y2="197.79" stroke="#1a1a1a" stroke-width="1.0" />
<line x1="109.10" y1="203.98" x2="113.10" y2="203.98" stroke="#1a1a1a" stroke-width="1.0" />
<line x1="148.60" y1="201.26" x2="148.60" y2="219.84" stroke="#1a1a1a" stroke-width="0.95" />
<line x1="146.60" y1="201.26" x2="150.60" y2="201.26" stroke="#1a1a1a" stroke-width="1.0" />
<line x1="146.60" y1="219.84" x2="150.60" y2="219.84" stroke="#1a1a1a" stroke-width="1.0" />
<line x1="186.10" y1="210.36" x2="186.10" y2="229.82" stroke="#1a1a1a" stroke-width="0.95" />
<line x1="184.10" y1="210.36" x2="188.10" y2="210.36" stroke="#1a1a1a" stroke-width="1.0" />
<line x1="184.10" y1="229.82" x2="188.10" y2="229.82" stroke="#1a1a1a" stroke-width="1.0" />
<line x1="223.60" y1="221.02" x2="223.60" y2="240.84" stroke="#1a1a1a" stroke-width="0.95" />
<line x1="221.60" y1="221.02" x2="225.60" y2="221.02" stroke="#1a1a1a" stroke-width="1.0" />
<line x1="221.60" y1="240.84" x2="225.60" y2="240.84" stroke="#1a1a1a" stroke-width="1.0" />
<line x1="73.60" y1="202.93" x2="73.60" y2="209.12" stroke="#1a1a1a" stroke-width="0.95" />
<line x1="71.60" y1="202.93" x2="75.60" y2="202.93" stroke="#1a1a1a" stroke-width="1.0" />
<line x1="71.60" y1="209.12" x2="75.60" y2="209.12" stroke="#1a1a1a" stroke-width="1.0" />
<line x1="111.10" y1="213.89" x2="111.10" y2="221.33" stroke="#1a1a1a" stroke-width="0.95" />
<line x1="109.10" y1="213.89" x2="113.10" y2="213.89" stroke="#1a1a1a" stroke-width="1.0" />
<line x1="109.10" y1="221.33" x2="113.10" y2="221.33" stroke="#1a1a1a" stroke-width="1.0" />
<line x1="148.60" y1="223.19" x2="148.60" y2="230.62" stroke="#1a1a1a" stroke-width="0.95" />
<line x1="146.60" y1="223.19" x2="150.60" y2="223.19" stroke="#1a1a1a" stroke-width="1.0" />
<line x1="146.60" y1="230.62" x2="150.60" y2="230.62" stroke="#1a1a1a" stroke-width="1.0" />
<line x1="186.10" y1="230.19" x2="186.10" y2="237.62" stroke="#1a1a1a" stroke-width="0.95" />
<line x1="184.10" y1="230.19" x2="188.10" y2="230.19" stroke="#1a1a1a" stroke-width="1.0" />
<line x1="184.10" y1="237.62" x2="188.10" y2="237.62" stroke="#1a1a1a" stroke-width="1.0" />
<line x1="223.60" y1="244.44" x2="223.60" y2="250.63" stroke="#1a1a1a" stroke-width="0.95" />
<line x1="221.60" y1="244.44" x2="225.60" y2="244.44" stroke="#1a1a1a" stroke-width="1.0" />
<line x1="221.60" y1="250.63" x2="225.60" y2="250.63" stroke="#1a1a1a" stroke-width="1.0" />
<line x1="73.60" y1="206.58" x2="73.60" y2="212.78" stroke="#1a1a1a" stroke-width="0.95" />
<line x1="71.60" y1="206.58" x2="75.60" y2="206.58" stroke="#1a1a1a" stroke-width="1.0" />
<line x1="71.60" y1="212.78" x2="75.60" y2="212.78" stroke="#1a1a1a" stroke-width="1.0" />
<line x1="111.10" y1="225.23" x2="111.10" y2="231.43" stroke="#1a1a1a" stroke-width="0.95" />
<line x1="109.10" y1="225.23" x2="113.10" y2="225.23" stroke="#1a1a1a" stroke-width="1.0" />
<line x1="109.10" y1="231.43" x2="113.10" y2="231.43" stroke="#1a1a1a" stroke-width="1.0" />
<line x1="148.60" y1="241.34" x2="148.60" y2="247.53" stroke="#1a1a1a" stroke-width="0.95" />
<line x1="146.60" y1="241.34" x2="150.60" y2="241.34" stroke="#1a1a1a" stroke-width="1.0" />
<line x1="146.60" y1="247.53" x2="150.60" y2="247.53" stroke="#1a1a1a" stroke-width="1.0" />
<line x1="186.10" y1="267.17" x2="186.10" y2="273.37" stroke="#1a1a1a" stroke-width="0.95" />
<line x1="184.10" y1="267.17" x2="188.10" y2="267.17" stroke="#1a1a1a" stroke-width="1.0" />
<line x1="184.10" y1="273.37" x2="188.10" y2="273.37" stroke="#1a1a1a" stroke-width="1.0" />
<line x1="223.60" y1="282.84" x2="223.60" y2="289.04" stroke="#1a1a1a" stroke-width="0.95" />
<line x1="221.60" y1="282.84" x2="225.60" y2="282.84" stroke="#1a1a1a" stroke-width="1.0" />
<line x1="221.60" y1="289.04" x2="225.60" y2="289.04" stroke="#1a1a1a" stroke-width="1.0" />
<line x1="73.60" y1="209.99" x2="73.60" y2="216.19" stroke="#1a1a1a" stroke-width="0.95" />
<line x1="71.60" y1="209.99" x2="75.60" y2="209.99" stroke="#1a1a1a" stroke-width="1.0" />
<line x1="71.60" y1="216.19" x2="75.60" y2="216.19" stroke="#1a1a1a" stroke-width="1.0" />
<line x1="111.10" y1="232.48" x2="111.10" y2="238.67" stroke="#1a1a1a" stroke-width="0.95" />
<line x1="109.10" y1="232.48" x2="113.10" y2="232.48" stroke="#1a1a1a" stroke-width="1.0" />
<line x1="109.10" y1="238.67" x2="113.10" y2="238.67" stroke="#1a1a1a" stroke-width="1.0" />
<line x1="148.60" y1="248.90" x2="148.60" y2="255.09" stroke="#1a1a1a" stroke-width="0.95" />
<line x1="146.60" y1="248.90" x2="150.60" y2="248.90" stroke="#1a1a1a" stroke-width="1.0" />
<line x1="146.60" y1="255.09" x2="150.60" y2="255.09" stroke="#1a1a1a" stroke-width="1.0" />
<line x1="186.10" y1="272.75" x2="186.10" y2="278.94" stroke="#1a1a1a" stroke-width="0.95" />
<line x1="184.10" y1="272.75" x2="188.10" y2="272.75" stroke="#1a1a1a" stroke-width="1.0" />
<line x1="184.10" y1="278.94" x2="188.10" y2="278.94" stroke="#1a1a1a" stroke-width="1.0" />
<line x1="223.60" y1="289.66" x2="223.60" y2="295.85" stroke="#1a1a1a" stroke-width="0.95" />
<line x1="221.60" y1="289.66" x2="225.60" y2="289.66" stroke="#1a1a1a" stroke-width="1.0" />
<line x1="221.60" y1="295.85" x2="225.60" y2="295.85" stroke="#1a1a1a" stroke-width="1.0" />
<circle cx="73.60" cy="195.93" r="2.2" fill="#8b7b2e" stroke="#1a1a1a" stroke-width="1.05"/>
<circle cx="111.10" cy="200.88" r="2.2" fill="#8b7b2e" stroke="#1a1a1a" stroke-width="1.05"/>
<circle cx="148.60" cy="210.55" r="2.2" fill="#8b7b2e" stroke="#1a1a1a" stroke-width="1.05"/>
<circle cx="186.10" cy="220.09" r="2.2" fill="#8b7b2e" stroke="#1a1a1a" stroke-width="1.05"/>
<circle cx="223.60" cy="230.93" r="2.2" fill="#8b7b2e" stroke="#1a1a1a" stroke-width="1.05"/>
<rect x="71.60" y="204.03" width="4" height="4" fill="#4a9ef0"/>
<rect x="109.10" y="215.61" width="4" height="4" fill="#4a9ef0"/>
<rect x="146.60" y="224.90" width="4" height="4" fill="#4a9ef0"/>
<rect x="184.10" y="231.90" width="4" height="4" fill="#4a9ef0"/>
<rect x="221.60" y="245.53" width="4" height="4" fill="#4a9ef0"/>
<path d="M71.40,207.92 L75.80,207.92 L73.60,211.88Z" fill="#9c5c54" stroke="#1a1a1a" stroke-width="0.9"/>
<path d="M108.90,226.57 L113.30,226.57 L111.10,230.53Z" fill="#9c5c54" stroke="#1a1a1a" stroke-width="0.9"/>
<path d="M146.40,242.68 L150.80,242.68 L148.60,246.64Z" fill="#9c5c54" stroke="#1a1a1a" stroke-width="0.9"/>
<path d="M183.90,268.51 L188.30,268.51 L186.10,272.47Z" fill="#9c5c54" stroke="#1a1a1a" stroke-width="0.9"/>
<path d="M221.40,284.18 L225.80,284.18 L223.60,288.14Z" fill="#9c5c54" stroke="#1a1a1a" stroke-width="0.9"/>
<path d="M73.60,210.69 L76.00,215.01 L71.20,215.01Z" fill="#1010ee"/>
<path d="M111.10,233.18 L113.50,237.50 L108.70,237.50Z" fill="#1010ee"/>
<path d="M148.60,249.59 L151.00,253.91 L146.20,253.91Z" fill="#1010ee"/>
<path d="M186.10,273.44 L188.50,277.76 L183.70,277.76Z" fill="#1010ee"/>
<path d="M223.60,290.36 L226.00,294.68 L221.20,294.68Z" fill="#1010ee"/>
<line x1="42.00" y1="286.40" x2="55.40" y2="286.40" stroke="#8a7a30" stroke-width="1.1" />
<circle cx="48.70" cy="286.40" r="2.2" fill="#8b7b2e" stroke="#1a1a1a" stroke-width="1.05"/>
<text x="63.30" y="289.60" font-size="9.05" text-anchor="start" font-weight="bold" fill="#1a1a1a" stroke="#1a1a1a" stroke-width="0.22" >Vehicle</text>
<line x1="42.00" y1="297.50" x2="55.40" y2="297.50" stroke="#f07070" stroke-width="1.1" />
<path d="M46.50,295.54 L50.90,295.54 L48.70,299.50Z" fill="#9c5c54" stroke="#1a1a1a" stroke-width="0.9"/>
<text x="63.30" y="300.70" font-size="9.05" text-anchor="start" font-weight="bold" fill="#1a1a1a" stroke="#1a1a1a" stroke-width="0.22" >Res</text>
<line x1="101.20" y1="286.40" x2="114.50" y2="286.40" stroke="#4a9ef0" stroke-width="1.1" />
<rect x="105.90" y="284.40" width="4" height="4" fill="#4a9ef0"/>
<text x="122.10" y="289.60" font-size="9.0" text-anchor="start" font-weight="bold" fill="#1a1a1a" stroke="#1a1a1a" stroke-width="0.22" textLength="15.0" lengthAdjust="spacingAndGlyphs">LDT</text>
<line x1="101.20" y1="297.20" x2="114.50" y2="297.20" stroke="#1010ee" stroke-width="1.1" />
<path d="M107.90,294.80 L110.30,299.12 L105.50,299.12Z" fill="#1010ee"/>
<text x="122.10" y="300.40" font-size="9.0" text-anchor="start" font-weight="bold" fill="#1a1a1a" stroke="#1a1a1a" stroke-width="0.22" textLength="16.5" lengthAdjust="spacingAndGlyphs">HDT</text>
<text x="115.00" y="215.60" font-size="9" text-anchor="start" font-weight="bold" fill="#222" letter-spacing="0.95">*</text>
<text x="115.00" y="230.90" font-size="9" text-anchor="start" font-weight="bold" fill="#222" letter-spacing="0.95">**</text>
<text x="107.00" y="251.20" font-size="9" text-anchor="start" font-weight="bold" fill="#222" letter-spacing="0.95">**</text>
<text x="152.60" y="226.00" font-size="9" text-anchor="start" font-weight="bold" fill="#222" letter-spacing="0.95">*</text>
<text x="142.00" y="240.90" font-size="9" text-anchor="start" font-weight="bold" fill="#222" letter-spacing="0.95">***</text>
<text x="142.00" y="267.00" font-size="9" text-anchor="start" font-weight="bold" fill="#222" letter-spacing="0.95">***</text>
<text x="190.20" y="234.20" font-size="9" text-anchor="start" font-weight="bold" fill="#222" letter-spacing="0.95">*</text>
<text x="180.00" y="265.90" font-size="9" text-anchor="start" font-weight="bold" fill="#222" letter-spacing="0.95">***</text>
<text x="180.00" y="291.10" font-size="9" text-anchor="start" font-weight="bold" fill="#222" letter-spacing="0.95">***</text>
<text x="229.80" y="250.90" font-size="9" text-anchor="start" font-weight="bold" fill="#222" letter-spacing="0.95">*</text>
<text x="229.60" y="286.70" font-size="9" text-anchor="start" font-weight="bold" fill="#222" letter-spacing="0.95">***</text>
<text x="229.60" y="300.10" font-size="9" text-anchor="start" font-weight="bold" fill="#222" letter-spacing="0.95">***</text>
<text x="242.60" y="298.60" font-size="8.6" text-anchor="start" font-weight="normal" fill="#1a1a1a" >††</text>
<path d="M243.4,245.5 L246.6,245.5 L246.6,281.5 L243.0,281.5" fill="none" stroke="#707070" stroke-width="0.9"/>
<text x="249.60" y="266.20" font-size="9.6" text-anchor="start" font-weight="normal" fill="#1a1a1a" >‡‡</text>
<text x="286.00" y="165.60" font-size="11" text-anchor="start" font-weight="bold" fill="#1a1a1a" stroke="#1a1a1a" stroke-width="0.22" >C</text>
<line x1="315.40" y1="306.40" x2="320.40" y2="306.40" stroke="#1a1a1a" stroke-width="1.3" />
<text x="313.80" y="309.90" font-size="8.5" text-anchor="end" font-weight="bold" fill="#1a1a1a" stroke="#1a1a1a" stroke-width="0.22" >0</text>
<line x1="315.40" y1="275.40" x2="320.40" y2="275.40" stroke="#1a1a1a" stroke-width="1.3" />
<text x="313.80" y="278.90" font-size="8.5" text-anchor="end" font-weight="bold" fill="#1a1a1a" stroke="#1a1a1a" stroke-width="0.22" >10</text>
<line x1="315.40" y1="244.40" x2="320.40" y2="244.40" stroke="#1a1a1a" stroke-width="1.3" />
<text x="313.80" y="247.90" font-size="8.5" text-anchor="end" font-weight="bold" fill="#1a1a1a" stroke="#1a1a1a" stroke-width="0.22" >20</text>
<line x1="315.40" y1="213.40" x2="320.40" y2="213.40" stroke="#1a1a1a" stroke-width="1.3" />
<text x="313.80" y="216.90" font-size="8.5" text-anchor="end" font-weight="bold" fill="#1a1a1a" stroke="#1a1a1a" stroke-width="0.22" >30</text>
<line x1="315.40" y1="182.40" x2="320.40" y2="182.40" stroke="#1a1a1a" stroke-width="1.3" />
<text x="313.80" y="185.90" font-size="8.5" text-anchor="end" font-weight="bold" fill="#1a1a1a" stroke="#1a1a1a" stroke-width="0.22" >40</text>
<text x="0" y="0" font-size="9.0" text-anchor="middle" font-weight="bold" fill="#1a1a1a" stroke="#1a1a1a" stroke-width="0.22" transform="translate(300.70,245.50) rotate(-90)">Number of errors (times)</text>
<rect x="324.50" y="212.78" width="7.59" height="93.62" fill="#8b7b38"/>
<rect x="332.84" y="218.67" width="7.59" height="87.73" fill="#8b7b38"/>
<rect x="341.18" y="221.15" width="7.59" height="85.25" fill="#8b7b38"/>
<rect x="349.52" y="226.73" width="7.59" height="79.67" fill="#8b7b38"/>
<rect x="357.86" y="228.90" width="7.59" height="77.50" fill="#8b7b38"/>
<line x1="328.30" y1="212.78" x2="328.30" y2="205.34" stroke="#333" stroke-width="0.9" />
<line x1="326.50" y1="205.34" x2="330.10" y2="205.34" stroke="#333" stroke-width="0.9" />
<text x="328.30" y="315.60" font-size="8.5" text-anchor="middle" font-weight="bold" fill="#1a1a1a" stroke="#1a1a1a" stroke-width="0.22" >1</text>
<line x1="336.63" y1="218.67" x2="336.63" y2="210.61" stroke="#333" stroke-width="0.9" />
<line x1="334.83" y1="210.61" x2="338.44" y2="210.61" stroke="#333" stroke-width="0.9" />
<text x="336.63" y="315.60" font-size="8.5" text-anchor="middle" font-weight="bold" fill="#1a1a1a" stroke="#1a1a1a" stroke-width="0.22" >2</text>
<line x1="344.98" y1="221.15" x2="344.98" y2="212.78" stroke="#333" stroke-width="0.9" />
<line x1="343.18" y1="212.78" x2="346.78" y2="212.78" stroke="#333" stroke-width="0.9" />
<text x="344.98" y="315.60" font-size="8.5" text-anchor="middle" font-weight="bold" fill="#1a1a1a" stroke="#1a1a1a" stroke-width="0.22" >3</text>
<line x1="353.31" y1="226.73" x2="353.31" y2="218.67" stroke="#333" stroke-width="0.9" />
<line x1="351.51" y1="218.67" x2="355.12" y2="218.67" stroke="#333" stroke-width="0.9" />
<text x="353.31" y="315.60" font-size="8.5" text-anchor="middle" font-weight="bold" fill="#1a1a1a" stroke="#1a1a1a" stroke-width="0.22" >4</text>
<line x1="361.66" y1="228.90" x2="361.66" y2="220.53" stroke="#333" stroke-width="0.9" />
<line x1="359.86" y1="220.53" x2="363.46" y2="220.53" stroke="#333" stroke-width="0.9" />
<text x="361.66" y="315.60" font-size="8.5" text-anchor="middle" font-weight="bold" fill="#1a1a1a" stroke="#1a1a1a" stroke-width="0.22" >5</text>
<rect x="370.70" y="224.25" width="7.59" height="82.15" fill="#58a4f4"/>
<rect x="379.04" y="246.26" width="7.59" height="60.14" fill="#58a4f4"/>
<rect x="387.38" y="254.32" width="7.59" height="52.08" fill="#58a4f4"/>
<rect x="395.72" y="261.14" width="7.59" height="45.26" fill="#58a4f4"/>
<rect x="404.06" y="268.89" width="7.59" height="37.51" fill="#58a4f4"/>
<line x1="374.50" y1="224.25" x2="374.50" y2="216.81" stroke="#333" stroke-width="0.9" />
<line x1="372.69" y1="216.81" x2="376.30" y2="216.81" stroke="#333" stroke-width="0.9" />
<text x="374.50" y="315.60" font-size="8.5" text-anchor="middle" font-weight="bold" fill="#1a1a1a" stroke="#1a1a1a" stroke-width="0.22" >1</text>
<line x1="382.83" y1="246.26" x2="382.83" y2="238.51" stroke="#333" stroke-width="0.9" />
<line x1="381.03" y1="238.51" x2="384.63" y2="238.51" stroke="#333" stroke-width="0.9" />
<text x="382.83" y="315.60" font-size="8.5" text-anchor="middle" font-weight="bold" fill="#1a1a1a" stroke="#1a1a1a" stroke-width="0.22" >2</text>
<line x1="391.18" y1="254.32" x2="391.18" y2="246.57" stroke="#333" stroke-width="0.9" />
<line x1="389.38" y1="246.57" x2="392.98" y2="246.57" stroke="#333" stroke-width="0.9" />
<text x="391.18" y="315.60" font-size="8.5" text-anchor="middle" font-weight="bold" fill="#1a1a1a" stroke="#1a1a1a" stroke-width="0.22" >3</text>
<line x1="399.51" y1="261.14" x2="399.51" y2="253.39" stroke="#333" stroke-width="0.9" />
<line x1="397.71" y1="253.39" x2="401.31" y2="253.39" stroke="#333" stroke-width="0.9" />
<text x="399.51" y="315.60" font-size="8.5" text-anchor="middle" font-weight="bold" fill="#1a1a1a" stroke="#1a1a1a" stroke-width="0.22" >4</text>
<line x1="407.86" y1="268.89" x2="407.86" y2="259.59" stroke="#333" stroke-width="0.9" />
<line x1="406.06" y1="259.59" x2="409.66" y2="259.59" stroke="#333" stroke-width="0.9" />
<text x="407.86" y="315.60" font-size="8.5" text-anchor="middle" font-weight="bold" fill="#1a1a1a" stroke="#1a1a1a" stroke-width="0.22" >5</text>
<rect x="416.90" y="241.30" width="7.59" height="65.10" fill="#0a0af0"/>
<rect x="425.24" y="263.00" width="7.59" height="43.40" fill="#0a0af0"/>
<rect x="433.58" y="281.29" width="7.59" height="25.11" fill="#0a0af0"/>
<rect x="441.92" y="290.90" width="7.59" height="15.50" fill="#0a0af0"/>
<rect x="450.26" y="297.10" width="7.59" height="9.30" fill="#0a0af0"/>
<line x1="420.69" y1="241.30" x2="420.69" y2="232.31" stroke="#333" stroke-width="0.9" />
<line x1="418.89" y1="232.31" x2="422.50" y2="232.31" stroke="#333" stroke-width="0.9" />
<text x="420.69" y="315.60" font-size="8.5" text-anchor="middle" font-weight="bold" fill="#1a1a1a" stroke="#1a1a1a" stroke-width="0.22" >1</text>
<line x1="429.03" y1="263.00" x2="429.03" y2="254.63" stroke="#333" stroke-width="0.9" />
<line x1="427.23" y1="254.63" x2="430.83" y2="254.63" stroke="#333" stroke-width="0.9" />
<text x="429.03" y="315.60" font-size="8.5" text-anchor="middle" font-weight="bold" fill="#1a1a1a" stroke="#1a1a1a" stroke-width="0.22" >2</text>
<line x1="437.38" y1="281.29" x2="437.38" y2="274.47" stroke="#333" stroke-width="0.9" />
<line x1="435.57" y1="274.47" x2="439.18" y2="274.47" stroke="#333" stroke-width="0.9" />
<text x="437.38" y="315.60" font-size="8.5" text-anchor="middle" font-weight="bold" fill="#1a1a1a" stroke="#1a1a1a" stroke-width="0.22" >3</text>
<line x1="445.71" y1="290.90" x2="445.71" y2="284.08" stroke="#333" stroke-width="0.9" />
<line x1="443.91" y1="284.08" x2="447.51" y2="284.08" stroke="#333" stroke-width="0.9" />
<text x="445.71" y="315.60" font-size="8.5" text-anchor="middle" font-weight="bold" fill="#1a1a1a" stroke="#1a1a1a" stroke-width="0.22" >4</text>
<line x1="454.06" y1="297.10" x2="454.06" y2="289.35" stroke="#333" stroke-width="0.9" />
<line x1="452.25" y1="289.35" x2="455.86" y2="289.35" stroke="#333" stroke-width="0.9" />
<text x="454.06" y="315.60" font-size="8.5" text-anchor="middle" font-weight="bold" fill="#1a1a1a" stroke="#1a1a1a" stroke-width="0.22" >5</text>
<rect x="463.10" y="227.66" width="7.59" height="78.74" fill="#f88080"/>
<rect x="471.44" y="246.88" width="7.59" height="59.52" fill="#f88080"/>
<rect x="479.78" y="259.71" width="7.59" height="46.69" fill="#f88080"/>
<rect x="488.12" y="272.61" width="7.59" height="33.79" fill="#f88080"/>
<rect x="496.46" y="278.19" width="7.59" height="28.21" fill="#f88080"/>
<line x1="466.90" y1="227.66" x2="466.90" y2="219.29" stroke="#333" stroke-width="0.9" />
<line x1="465.10" y1="219.29" x2="468.70" y2="219.29" stroke="#333" stroke-width="0.9" />
<text x="466.90" y="315.60" font-size="8.5" text-anchor="middle" font-weight="bold" fill="#1a1a1a" stroke="#1a1a1a" stroke-width="0.22" >1</text>
<line x1="475.24" y1="246.88" x2="475.24" y2="239.44" stroke="#333" stroke-width="0.9" />
<line x1="473.44" y1="239.44" x2="477.04" y2="239.44" stroke="#333" stroke-width="0.9" />
<text x="475.24" y="315.60" font-size="8.5" text-anchor="middle" font-weight="bold" fill="#1a1a1a" stroke="#1a1a1a" stroke-width="0.22" >2</text>
<line x1="483.58" y1="259.71" x2="483.58" y2="252.27" stroke="#333" stroke-width="0.9" />
<line x1="481.78" y1="252.27" x2="485.38" y2="252.27" stroke="#333" stroke-width="0.9" />
<text x="483.58" y="315.60" font-size="8.5" text-anchor="middle" font-weight="bold" fill="#1a1a1a" stroke="#1a1a1a" stroke-width="0.22" >3</text>
<line x1="491.92" y1="272.61" x2="491.92" y2="265.17" stroke="#333" stroke-width="0.9" />
<line x1="490.12" y1="265.17" x2="493.72" y2="265.17" stroke="#333" stroke-width="0.9" />
<text x="491.92" y="315.60" font-size="8.5" text-anchor="middle" font-weight="bold" fill="#1a1a1a" stroke="#1a1a1a" stroke-width="0.22" >4</text>
<line x1="500.26" y1="278.19" x2="500.26" y2="270.44" stroke="#333" stroke-width="0.9" />
<line x1="498.46" y1="270.44" x2="502.06" y2="270.44" stroke="#333" stroke-width="0.9" />
<text x="500.26" y="315.60" font-size="8.5" text-anchor="middle" font-weight="bold" fill="#1a1a1a" stroke="#1a1a1a" stroke-width="0.22" >5</text>
<line x1="320.40" y1="306.90" x2="320.40" y2="181.90" stroke="#1a1a1a" stroke-width="1.4" />
<line x1="319.80" y1="306.40" x2="508.40" y2="306.40" stroke="#1a1a1a" stroke-width="1.4" />
<text x="510.60" y="315.60" font-size="8.4" text-anchor="start" font-weight="bold" fill="#1a1a1a" stroke="#1a1a1a" stroke-width="0.22" >Days</text>
<rect x="328.40" y="177.70" width="13.4" height="5" fill="#8b7b38"/>
<text x="349.20" y="183.40" font-size="9.4" text-anchor="start" font-weight="bold" fill="#1a1a1a" stroke="#1a1a1a" stroke-width="0.22" >Vehicle</text>
<rect x="328.40" y="187.80" width="13.4" height="5" fill="#58a4f4"/>
<text x="349.20" y="193.50" font-size="9.4" text-anchor="start" font-weight="bold" fill="#1a1a1a" stroke="#1a1a1a" stroke-width="0.22"  textLength="15.6" lengthAdjust="spacingAndGlyphs">LDT</text>
<rect x="392.90" y="177.80" width="13.4" height="5" fill="#0a0af0"/>
<text x="413.70" y="183.50" font-size="9.4" text-anchor="start" font-weight="bold" fill="#1a1a1a" stroke="#1a1a1a" stroke-width="0.22"  textLength="16.3" lengthAdjust="spacingAndGlyphs">HDT</text>
<rect x="392.90" y="187.90" width="13.4" height="5" fill="#f88080"/>
<text x="413.70" y="193.60" font-size="9.4" text-anchor="start" font-weight="bold" fill="#1a1a1a" stroke="#1a1a1a" stroke-width="0.22" >Res</text>
<line x1="372.00" y1="212.20" x2="412.30" y2="212.20" stroke="#606060" stroke-width="1.1" />
<line x1="413.20" y1="227.90" x2="453.80" y2="227.90" stroke="#606060" stroke-width="1.1" />
<line x1="462.00" y1="215.20" x2="502.20" y2="215.20" stroke="#606060" stroke-width="1.1" />
<text x="392.30" y="207.00" font-size="7.2" text-anchor="middle" font-weight="bold" fill="#333" stroke="#333" stroke-width="0.22" >^</text>
<text x="434.20" y="223.20" font-size="7.2" text-anchor="middle" font-weight="bold" fill="#333" stroke="#333" stroke-width="0.22" >^</text>
<text x="482.00" y="211.20" font-size="7.2" text-anchor="middle" font-weight="bold" fill="#333" stroke="#333" stroke-width="0.22" >^</text>
<text x="547.00" y="165.00" font-size="11" text-anchor="start" font-weight="bold" fill="#1a1a1a" stroke="#1a1a1a" stroke-width="0.22" >D</text>
<line x1="582.20" y1="306.80" x2="582.20" y2="181.00" stroke="#1a1a1a" stroke-width="1.3" />
<line x1="581.60" y1="306.30" x2="706.80" y2="306.30" stroke="#1a1a1a" stroke-width="1.4" />
<line x1="577.20" y1="306.30" x2="582.20" y2="306.30" stroke="#1a1a1a" stroke-width="1.3" />
<text x="575.20" y="309.30" font-size="8.5" text-anchor="end" font-weight="bold" fill="#1a1a1a" stroke="#1a1a1a" stroke-width="0.22" >0</text>
<line x1="577.20" y1="275.10" x2="582.20" y2="275.10" stroke="#1a1a1a" stroke-width="1.3" />
<text x="575.20" y="278.10" font-size="8.5" text-anchor="end" font-weight="bold" fill="#1a1a1a" stroke="#1a1a1a" stroke-width="0.22" >20</text>
<line x1="577.20" y1="243.90" x2="582.20" y2="243.90" stroke="#1a1a1a" stroke-width="1.3" />
<text x="575.20" y="246.90" font-size="8.5" text-anchor="end" font-weight="bold" fill="#1a1a1a" stroke="#1a1a1a" stroke-width="0.22" >40</text>
<line x1="577.20" y1="212.70" x2="582.20" y2="212.70" stroke="#1a1a1a" stroke-width="1.3" />
<text x="575.20" y="215.70" font-size="8.5" text-anchor="end" font-weight="bold" fill="#1a1a1a" stroke="#1a1a1a" stroke-width="0.22" >60</text>
<line x1="577.20" y1="181.50" x2="582.20" y2="181.50" stroke="#1a1a1a" stroke-width="1.3" />
<text x="575.20" y="184.50" font-size="8.5" text-anchor="end" font-weight="bold" fill="#1a1a1a" stroke="#1a1a1a" stroke-width="0.22" >80</text>
<line x1="598.80" y1="306.30" x2="598.80" y2="311.30" stroke="#1a1a1a" stroke-width="1.4" />
<text x="598.80" y="320.60" font-size="8.4" text-anchor="middle" font-weight="bold" fill="#1a1a1a" stroke="#1a1a1a" stroke-width="0.22" >Vehicle</text>
<line x1="629.10" y1="306.30" x2="629.10" y2="311.30" stroke="#1a1a1a" stroke-width="1.4" />
<text x="629.10" y="320.60" font-size="8.4" text-anchor="middle" font-weight="bold" fill="#1a1a1a" stroke="#1a1a1a" stroke-width="0.22" >LDT</text>
<line x1="659.10" y1="306.30" x2="659.10" y2="311.30" stroke="#1a1a1a" stroke-width="1.4" />
<text x="659.10" y="320.60" font-size="8.4" text-anchor="middle" font-weight="bold" fill="#1a1a1a" stroke="#1a1a1a" stroke-width="0.22" >HDT</text>
<line x1="689.30" y1="306.30" x2="689.30" y2="311.30" stroke="#1a1a1a" stroke-width="1.4" />
<text x="689.30" y="320.60" font-size="8.4" text-anchor="middle" font-weight="bold" fill="#1a1a1a" stroke="#1a1a1a" stroke-width="0.22" >Res</text>
<text x="0" y="0" font-size="9.3" text-anchor="middle" font-weight="bold" fill="#1a1a1a" stroke="#1a1a1a" stroke-width="0.22" transform="translate(552.10,244.30) rotate(-90)">Time-spent in target zone</text>
<text x="0" y="0" font-size="9.3" text-anchor="middle" font-weight="bold" fill="#1a1a1a" stroke="#1a1a1a" stroke-width="0.22" transform="translate(563.20,243.20) rotate(-90)">(sec)</text>
<path d="M628.2,215.2 L628.2,176.6 L691,176.6 L691,184.9" fill="none" stroke="#555" stroke-width="0.9"/>
<text x="662.20" y="172.00" font-size="9" text-anchor="middle" font-weight="normal" fill="#1a1a1a" >‡</text>
<text x="656.00" y="191.00" font-size="9" text-anchor="start" font-weight="bold" fill="#222" letter-spacing="0.95">**</text>
<text x="664.40" y="189.80" font-size="8.4" text-anchor="start" font-weight="normal" fill="#1a1a1a" >†</text>
<text x="688.20" y="195.20" font-size="9" text-anchor="start" font-weight="bold" fill="#222" letter-spacing="0.95">**</text>
<text x="627.20" y="224.40" font-size="9" text-anchor="start" font-weight="bold" fill="#222" letter-spacing="0.95">*</text>
<circle cx="596.40" cy="259.20" r="2.2" fill="#8b7b2e" stroke="#1a1a1a" stroke-width="1.05"/>
<circle cx="601.20" cy="261.00" r="2.2" fill="#8b7b2e" stroke="#1a1a1a" stroke-width="1.05"/>
<circle cx="592.40" cy="273.90" r="2.2" fill="#8b7b2e" stroke="#1a1a1a" stroke-width="1.05"/>
<circle cx="596.40" cy="272.10" r="2.2" fill="#8b7b2e" stroke="#1a1a1a" stroke-width="1.05"/>
<circle cx="601.20" cy="273.90" r="2.2" fill="#8b7b2e" stroke="#1a1a1a" stroke-width="1.05"/>
<circle cx="605.30" cy="270.20" r="2.2" fill="#8b7b2e" stroke="#1a1a1a" stroke-width="1.05"/>
<circle cx="605.30" cy="274.80" r="2.2" fill="#8b7b2e" stroke="#1a1a1a" stroke-width="1.05"/>
<circle cx="592.40" cy="278.50" r="2.2" fill="#8b7b2e" stroke="#1a1a1a" stroke-width="1.05"/>
<circle cx="596.40" cy="277.60" r="2.2" fill="#8b7b2e" stroke="#1a1a1a" stroke-width="1.05"/>
<circle cx="601.20" cy="279.50" r="2.2" fill="#8b7b2e" stroke="#1a1a1a" stroke-width="1.05"/>
<circle cx="605.30" cy="279.50" r="2.2" fill="#8b7b2e" stroke="#1a1a1a" stroke-width="1.05"/>
<circle cx="592.00" cy="283.20" r="2.2" fill="#8b7b2e" stroke="#1a1a1a" stroke-width="1.05"/>
<line x1="598.80" y1="266.00" x2="598.80" y2="284.00" stroke="#222" stroke-width="1.0" />
<line x1="594.00" y1="266.00" x2="603.60" y2="266.00" stroke="#222" stroke-width="1.0" />
<line x1="594.00" y1="284.00" x2="603.60" y2="284.00" stroke="#222" stroke-width="1.0" />
<line x1="590.30" y1="276.00" x2="607.30" y2="276.00" stroke="#1a1a1a" stroke-width="1.2" />
<rect x="626.90" y="224.50" width="4" height="4" fill="#58a4f4"/>
<rect x="626.90" y="234.10" width="4" height="4" fill="#58a4f4"/>
<rect x="633.80" y="234.10" width="4" height="4" fill="#58a4f4"/>
<rect x="619.90" y="240.00" width="4" height="4" fill="#58a4f4"/>
<rect x="633.80" y="240.00" width="4" height="4" fill="#58a4f4"/>
<rect x="619.90" y="244.80" width="4" height="4" fill="#58a4f4"/>
<rect x="626.90" y="246.60" width="4" height="4" fill="#58a4f4"/>
<rect x="633.80" y="247.40" width="4" height="4" fill="#58a4f4"/>
<rect x="626.90" y="251.10" width="4" height="4" fill="#58a4f4"/>
<rect x="619.90" y="252.50" width="4" height="4" fill="#58a4f4"/>
<rect x="633.80" y="252.50" width="4" height="4" fill="#58a4f4"/>
<line x1="628.90" y1="236.40" x2="628.90" y2="253.00" stroke="#222" stroke-width="1.0" />
<line x1="624.10" y1="236.40" x2="633.70" y2="236.40" stroke="#222" stroke-width="1.0" />
<line x1="624.10" y1="253.00" x2="633.70" y2="253.00" stroke="#222" stroke-width="1.0" />
<line x1="620.40" y1="244.40" x2="637.40" y2="244.40" stroke="#1a1a1a" stroke-width="1.2" />
<path d="M661.20,190.60 L663.40,194.56 L659.00,194.56Z" fill="#1010ee"/>
<path d="M652.60,195.40 L654.80,199.36 L650.40,199.36Z" fill="#1010ee"/>
<path d="M665.80,195.40 L668.00,199.36 L663.60,199.36Z" fill="#1010ee"/>
<path d="M656.60,197.90 L658.80,201.86 L654.40,201.86Z" fill="#1010ee"/>
<path d="M661.20,196.60 L663.40,200.56 L659.00,200.56Z" fill="#1010ee"/>
<path d="M656.60,204.60 L658.80,208.56 L654.40,208.56Z" fill="#1010ee"/>
<path d="M661.20,204.60 L663.40,208.56 L659.00,208.56Z" fill="#1010ee"/>
<path d="M656.60,208.60 L658.80,212.56 L654.40,212.56Z" fill="#1010ee"/>
<path d="M656.60,213.80 L658.80,217.76 L654.40,217.76Z" fill="#1010ee"/>
<path d="M661.20,212.30 L663.40,216.26 L659.00,216.26Z" fill="#1010ee"/>
<path d="M656.60,221.90 L658.80,225.86 L654.40,225.86Z" fill="#1010ee"/>
<path d="M661.20,218.20 L663.40,222.16 L659.00,222.16Z" fill="#1010ee"/>
<line x1="659.10" y1="197.00" x2="659.10" y2="217.30" stroke="#222" stroke-width="1.0" />
<line x1="654.30" y1="197.00" x2="663.90" y2="197.00" stroke="#222" stroke-width="1.0" />
<line x1="654.30" y1="217.30" x2="663.90" y2="217.30" stroke="#222" stroke-width="1.0" />
<line x1="650.60" y1="207.20" x2="667.60" y2="207.20" stroke="#1a1a1a" stroke-width="1.2" />
<path d="M689.20,196.22 L693.40,196.22 L691.30,200.00Z" fill="#b06860" stroke="#1a1a1a" stroke-width="0.9"/>
<path d="M685.00,199.52 L689.20,199.52 L687.10,203.30Z" fill="#b06860" stroke="#1a1a1a" stroke-width="0.9"/>
<path d="M689.20,202.72 L693.40,202.72 L691.30,206.50Z" fill="#b06860" stroke="#1a1a1a" stroke-width="0.9"/>
<path d="M685.00,210.12 L689.20,210.12 L687.10,213.90Z" fill="#b06860" stroke="#1a1a1a" stroke-width="0.9"/>
<path d="M689.20,209.12 L693.40,209.12 L691.30,212.90Z" fill="#b06860" stroke="#1a1a1a" stroke-width="0.9"/>
<path d="M693.30,209.12 L697.50,209.12 L695.40,212.90Z" fill="#b06860" stroke="#1a1a1a" stroke-width="0.9"/>
<path d="M680.40,214.72 L684.60,214.72 L682.50,218.50Z" fill="#b06860" stroke="#1a1a1a" stroke-width="0.9"/>
<path d="M685.00,216.52 L689.20,216.52 L687.10,220.30Z" fill="#b06860" stroke="#1a1a1a" stroke-width="0.9"/>
<path d="M689.20,215.12 L693.40,215.12 L691.30,218.90Z" fill="#b06860" stroke="#1a1a1a" stroke-width="0.9"/>
<path d="M693.30,213.22 L697.50,213.22 L695.40,217.00Z" fill="#b06860" stroke="#1a1a1a" stroke-width="0.9"/>
<path d="M685.00,222.12 L689.20,222.12 L687.10,225.90Z" fill="#b06860" stroke="#1a1a1a" stroke-width="0.9"/>
<path d="M685.00,227.62 L689.20,227.62 L687.10,231.40Z" fill="#b06860" stroke="#1a1a1a" stroke-width="0.9"/>
<line x1="686.90" y1="204.40" x2="686.90" y2="221.90" stroke="#222" stroke-width="1.0" />
<line x1="682.10" y1="204.40" x2="691.70" y2="204.40" stroke="#222" stroke-width="1.0" />
<line x1="682.10" y1="221.90" x2="691.70" y2="221.90" stroke="#222" stroke-width="1.0" />
<line x1="680.30" y1="213.60" x2="693.50" y2="213.60" stroke="#1a1a1a" stroke-width="1.2" />
</svg></body></html>
